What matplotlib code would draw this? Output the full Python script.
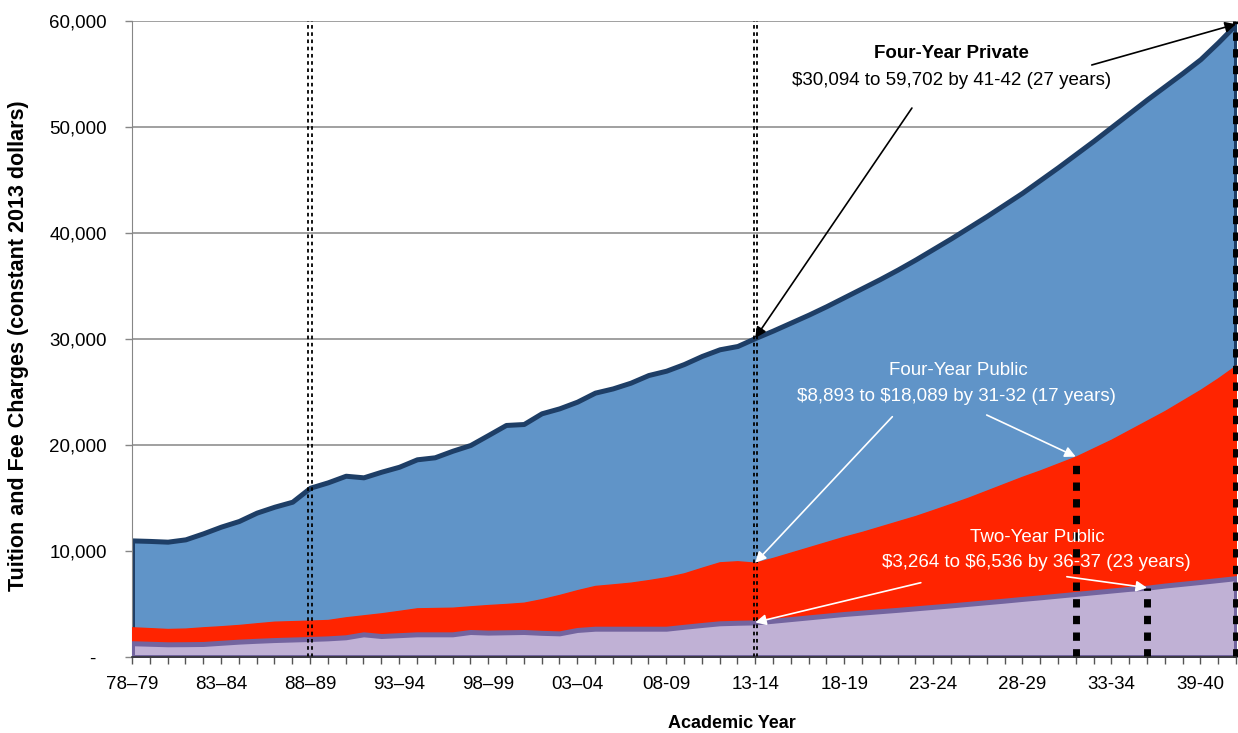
import numpy as np
import matplotlib
matplotlib.use('agg')
import matplotlib.pyplot as plt

plt.rcParams['font.family'] = ['Liberation Sans', 'DejaVu Sans']

# one value per academic year, 78-79 .. 41-42 (index 35 = 13-14)
private4 = [11000, 10950, 10880, 11100, 11670, 12300, 12830, 13620, 14180, 14650,
            15970, 16480, 17100, 16950, 17480, 17950, 18650, 18840, 19460, 20000,
            20940, 21890, 21980, 22990, 23460, 24090, 24940, 25340, 25880, 26600,
            27010, 27640, 28400, 29030, 29340, 30094,
            30800, 31550, 32300, 33100, 33950, 34800, 35650, 36550, 37500, 38500,
            39500, 40550, 41600, 42700, 43800, 45000, 46200, 47450, 48700, 50000,
            51300, 52600, 53850, 55100, 56400, 58000, 59702]
public4 = [2800, 2720, 2640, 2680, 2800, 2900, 3020, 3180, 3330, 3380,
           3430, 3490, 3740, 3930, 4120, 4350, 4590, 4620, 4650, 4780,
           4900, 5000, 5120, 5450, 5850, 6300, 6700, 6850, 7010, 7250,
           7520, 7890, 8420, 8930, 9030, 8893,
           9350, 9850, 10350, 10850, 11350, 11800, 12300, 12800, 13300, 13870,
           14450, 15050, 15700, 16350, 17000, 17600, 18250, 18900, 19700, 20500,
           21400, 22300, 23200, 24200, 25200, 26300, 27500]
public2 = [1300, 1250, 1200, 1210, 1230, 1340, 1450, 1530, 1600, 1650,
           1700, 1760, 1860, 2140, 1980, 2060, 2140, 2140, 2140, 2360,
           2300, 2330, 2360, 2280, 2230, 2550, 2670, 2670, 2670, 2670,
           2670, 2850, 3020, 3180, 3230, 3264,
           3420, 3580, 3740, 3900, 4060, 4190, 4320, 4450, 4590, 4730,
           4870, 5020, 5170, 5320, 5480, 5630, 5790, 5950, 6110, 6270,
           6430, 6536, 6740, 6910, 7080, 7260, 7440]

tick_labels = ['78\u201379', '83\u201384', '88\u201389', '93\u201394', '98\u201399',
               '03\u201304', '08-09', '13-14', '18-19', '23-24', '28-29',
               '33-34', '39-40']
y_ticks = [0, 10000, 20000, 30000, 40000, 50000, 60000]

x = np.arange(len(private4))

fig = plt.figure(figsize=(12.38, 7.33), dpi=100)
ax = fig.add_axes([132 / 1238, 76 / 733, 1104 / 1238, 636 / 733])

ax.set_axisbelow(True)
ax.grid(axis='y', color='#868686', lw=1.1)

ax.fill_between(x, 0, private4, facecolor='#6094c8', edgecolor='#1e3e66',
                lw=3.6, joinstyle='round', zorder=2)
ax.fill_between(x, 0, public4, facecolor='#ff2400', edgecolor='#ff2400',
                lw=1, zorder=3)
ax.fill_between(x, 0, public2, facecolor='#c0b1d5', edgecolor='#73649f',
                lw=3.6, joinstyle='round', zorder=4)

# double dotted markers at 88-89 and 13-14
for xv in [10, 35]:
    for dx in [-0.09, 0.09]:
        ax.plot([xv + dx, xv + dx], [0, 60000], color='black', lw=1.3,
                dashes=(2, 2), zorder=5, clip_on=False)

# heavy dotted markers where each projection ends
for xv, top in [(53, public4[53]), (57, public2[57]), (62, 60000)]:
    ax.plot([xv, xv], [0, top], color='black', lw=5, dashes=(1.2, 1.2),
            solid_capstyle='butt', dash_capstyle='butt', zorder=6, clip_on=False)

ax.set_xlim(0, 62)
ax.set_ylim(0, 60000)
ax.set_xticks(x)
labels = [''] * len(x)
for k, lab in enumerate(tick_labels):
    labels[k * 5] = lab
ax.set_xticklabels(labels)
ax.set_yticks(y_ticks)
ax.set_yticklabels(['-  '] + ['{:,}'.format(v) for v in y_ticks[1:]])
ax.tick_params(axis='x', length=5, width=1, color='#555555', labelsize=13.5, pad=9)
ax.tick_params(axis='y', length=5, width=1, color='#868686', labelsize=13.5, pad=13)

for s in ['top', 'right']:
    ax.spines[s].set_visible(False)
ax.spines['left'].set_color('#868686')
ax.spines['bottom'].set_color('#333333')
ax.spines['bottom'].set_linewidth(1.2)
ax.spines['bottom'].set_zorder(7)

ax.set_ylabel('Tuition and Fee Charges (constant 2013 dollars)', fontsize=15.5,
              fontweight='bold')
ax.yaxis.set_label_coords(-0.093, 0.49)
fig.text(732 / 1238, 1 - 723 / 733, 'Academic Year', fontsize=13,
         fontweight='bold', ha='center', va='center')

# annotations
ax.text(46.0, 56980, 'Four-Year Private', fontsize=13.5, fontweight='bold',
        ha='center', va='center', zorder=8)
ax.text(46.0, 54430, '\\$30,094 to 59,702 by 41-42 (27 years)', fontsize=13.5,
        ha='center', va='center', zorder=8)
ax.text(46.4, 27075, 'Four-Year Public', fontsize=13.5, color='white',
        ha='center', va='center', zorder=8)
ax.text(46.3, 24530, '\\$8,893 to \\$18,089 by 31-32 (17 years)', fontsize=13.5,
        color='white', ha='center', va='center', zorder=8)
ax.text(50.85, 11320, 'Two-Year Public', fontsize=13.5, color='white',
        ha='center', va='center', zorder=8)
ax.text(50.8, 8870, '\\$3,264 to \\$6,536 by 36-37 (23 years)', fontsize=13.5,
        color='white', ha='center', va='center', zorder=8)

arrows = [((53.9, 55850), (62, private4[62]), 'black'),
          ((43.8, 51790), (35, private4[35]), 'black'),
          ((42.7, 22670), (35, public4[35]), 'white'),
          ((48.0, 22830), (53, public4[53]), 'white'),
          ((44.3, 7010), (35, public2[35]), 'white'),
          ((52.5, 7575), (57, public2[57]), 'white')]
for tail, head, col in arrows:
    ax.annotate('', xy=head, xytext=tail, zorder=9, annotation_clip=False,
                arrowprops=dict(arrowstyle='-|>', color=col, lw=1.2,
                                mutation_scale=16, shrinkA=0, shrinkB=0))

fig.savefig('out.png', dpi=100)
